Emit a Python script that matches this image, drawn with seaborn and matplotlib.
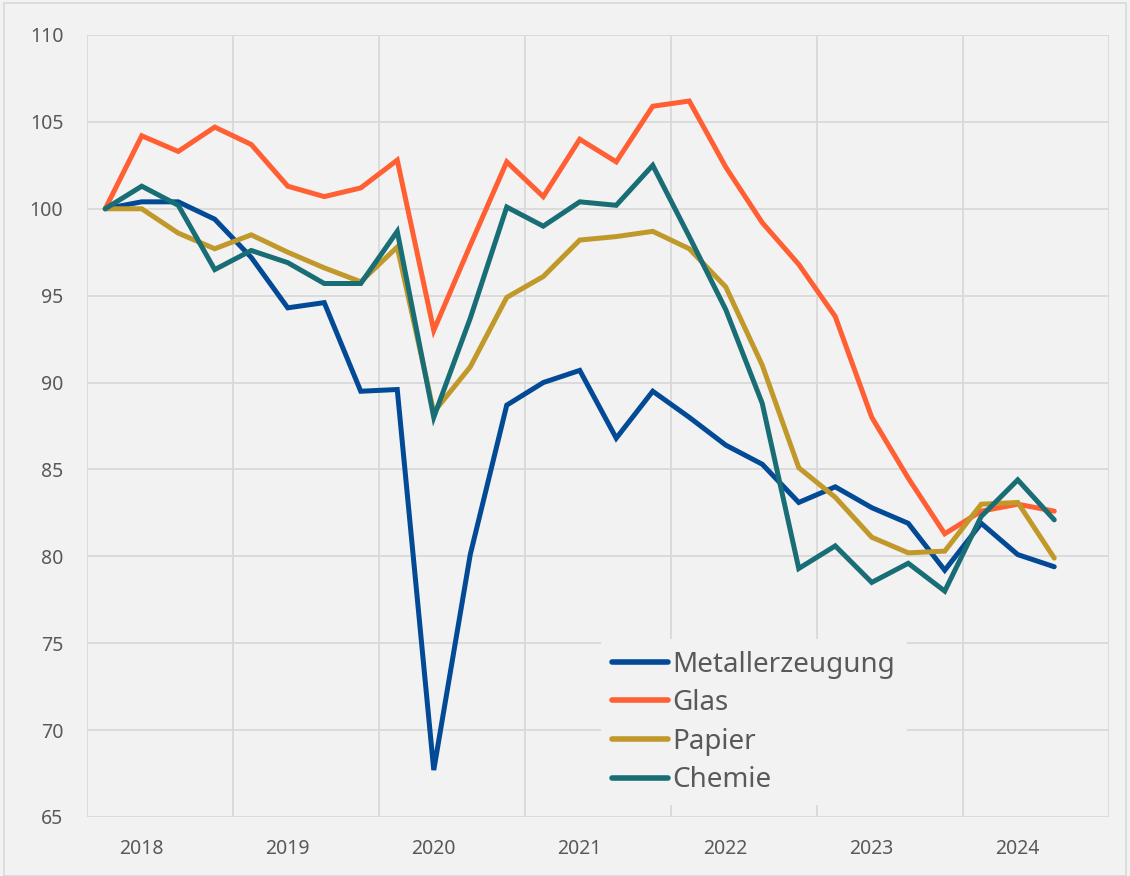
import seaborn as sns
import matplotlib.pyplot as plt
import matplotlib.patches as mpatches
import numpy as np
import pandas as pd

# Quartalswerte, Index (2018 Q1 = 100)
jahre = ["2018", "2019", "2020", "2021", "2022", "2023", "2024"]
metall = [100, 100.4, 100.4, 99.4, 97.2, 94.3, 94.6, 89.5, 89.6, 67.7, 80.1, 88.7, 90.0, 90.7,
          86.8, 89.5, 88.0, 86.4, 85.3, 83.1, 84.0, 82.8, 81.9, 79.2, 81.9, 80.1, 79.4]
glas = [100, 104.2, 103.3, 104.7, 103.7, 101.3, 100.7, 101.2, 102.8, 93.0, 97.9, 102.7, 100.7, 104.0,
        102.7, 105.9, 106.2, 102.4, 99.2, 96.8, 93.8, 88.0, 84.5, 81.3, 82.6, 83.0, 82.6]
papier = [100, 100, 98.6, 97.7, 98.5, 97.5, 96.6, 95.8, 97.8, 88.3, 90.9, 94.9, 96.1, 98.2,
          98.4, 98.7, 97.7, 95.5, 91.0, 85.1, 83.4, 81.1, 80.2, 80.3, 83.0, 83.1, 79.9]
chemie = [100, 101.3, 100.2, 96.5, 97.6, 96.9, 95.7, 95.7, 98.7, 88.0, 93.7, 100.1, 99.0, 100.4,
          100.2, 102.5, 98.4, 94.2, 88.8, 79.3, 80.6, 78.5, 79.6, 78.0, 82.3, 84.4, 82.1]

serien = {"Metallerzeugung": metall, "Glas": glas, "Papier": papier, "Chemie": chemie}
farben = {"Metallerzeugung": "#034a96", "Glas": "#ff5f32", "Papier": "#c0992a", "Chemie": "#186e74"}

df = pd.concat([pd.DataFrame({"Quartal": np.arange(len(v)), "Wert": v, "Branche": k})
                for k, v in serien.items()])

bg = "#f2f2f2"
textfarbe = "#595959"
sns.set_style("white")
plt.rcParams["font.family"] = ["Noto Sans", "DejaVu Sans"]

fig = plt.figure(figsize=(11.3, 8.76), dpi=100, facecolor=bg)
ax = fig.add_axes([87 / 1130, 1 - 817 / 876, (1109 - 87) / 1130, (817 - 35) / 876])
ax.set_facecolor(bg)

sns.lineplot(data=df, x="Quartal", y="Wert", hue="Branche", palette=farben,
             linewidth=3.6, ax=ax, legend=False)
for l in ax.lines:
    l.set_solid_capstyle("round")
    l.set_solid_joinstyle("miter")

ax.set_xlim(-0.5, 27.5)
ax.set_ylim(65, 110)
ax.set_yticks(np.arange(65, 111, 5))
# Jahresbeschriftung sitzt beim zweiten Quartal
ax.set_xticks(np.arange(1, 28, 4))
ax.set_xticklabels(jahre)
ax.set_xticks(np.arange(-0.5, 28, 4), minor=True)
ax.grid(axis="y", color="#d9d9d9", linewidth=1.3)
ax.grid(axis="x", which="minor", color="#d9d9d9", linewidth=1.3)
ax.set_axisbelow(True)
for s in ax.spines.values():
    s.set_visible(False)
ax.tick_params(axis="both", which="both", length=0, labelsize=14, labelcolor=textfarbe)
ax.tick_params(axis="y", pad=17)
ax.tick_params(axis="x", pad=16)
ax.set_xlabel("")
ax.set_ylabel("")

handles = [plt.Line2D([], [], color=farben[k], linewidth=4, solid_capstyle="round") for k in serien]
leg = ax.legend(handles, list(serien), loc="upper left", bbox_to_anchor=(0.503, 0.227),
                frameon=True, facecolor=bg, edgecolor=bg, framealpha=1, fontsize=20,
                labelcolor=textfarbe, handlelength=2.0, handletextpad=0.18, labelspacing=0.38,
                borderpad=0.4, borderaxespad=0, fancybox=False)
leg.get_frame().set_linewidth(0)

fig.patches.append(mpatches.Rectangle((4 / 1130, 0), 1 - 8 / 1130, 1 - 3 / 876, transform=fig.transFigure,
                                      fill=False, edgecolor="#d9d9d9", linewidth=1.2))

fig.savefig("out.png", dpi=100, facecolor=bg)
